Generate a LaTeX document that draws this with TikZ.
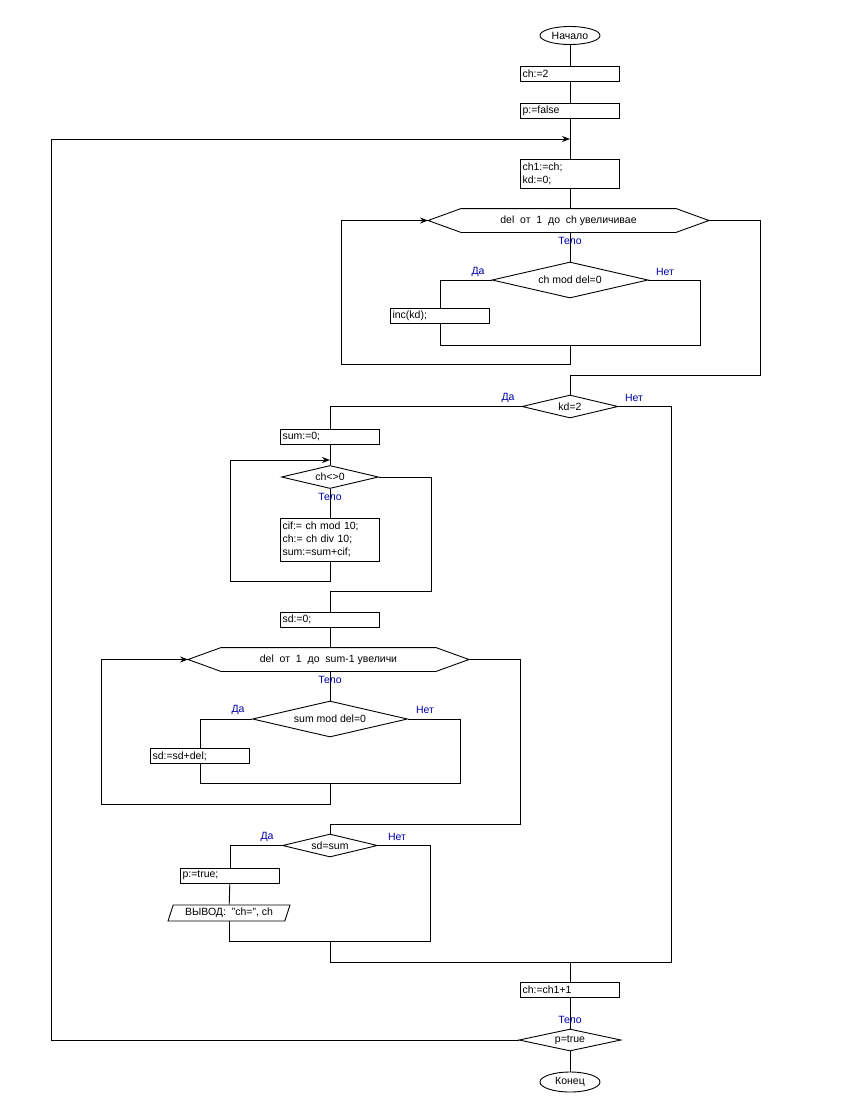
\documentclass[tikz,border=0pt]{standalone}
\usepackage{fontspec}
\setmainfont{Liberation Sans}
\usepackage{tikz}
\usetikzlibrary{positioning,calc,shapes,arrows.meta}
\definecolor{lblblue}{RGB}{0,0,170}
\tikzstyle{term}= [ellipse, draw, inner sep=0pt, minimum width=60pt, minimum height=18pt]
\tikzstyle{proc}= [rectangle, draw, inner sep=2pt, text width=95pt, minimum height=15pt, align=left]
\tikzstyle{cond}= [diamond, draw, inner sep=0pt, aspect=4.3]
\tikzstyle{loophex}= [rectangle, inner sep=0pt, minimum width=280pt, minimum height=23pt]
\tikzstyle{outp}= [trapezium, draw, trapezium left angle=66, trapezium right angle=114, trapezium stretches body=true, inner xsep=2pt, inner ysep=1pt, minimum width=122pt, minimum height=16pt]
\tikzstyle{lbl}= [text=lblblue, inner sep=0pt]
\tikzstyle{arr}= [-{Stealth[length=8pt,width=6pt]}]
\newcommand{\hexframe}[1]{\draw (#1.west) -- ($(#1.north west)+(33,0)$) -- ($(#1.north east)+(-33,0)$) -- (#1.east) -- ($(#1.south east)+(-33,0)$) -- ($(#1.south west)+(33,0)$) -- cycle;}

\begin{document}
\begin{tikzpicture}[x=1pt, y=-1pt, line width=0.9pt, font=\fontsize{10.5}{13}\selectfont]
				\useasboundingbox (0,0) rectangle (860,1116);
				\node[term] (start) at (570, 35.5) {Начало};
				\node[proc] (b1) at (570, 73.5) {ch:=2};
				\node[proc] (b2) at (570, 110.5) {p:=false};
				\node[proc, minimum height=29pt] (b3) at (570, 173.5) {ch1:=ch;\\kd:=0;};
				\node[loophex] (h1) at (568.5, 220.5) {del~ от~ 1~ до~ ch увеличивае};
				\node[cond, minimum width=156pt, minimum height=36pt] (d1) at (570, 280) {ch mod del=0};
				\node[proc] (b4) at (440, 316) {inc(kd);};
				\node[cond, minimum width=96pt, minimum height=23pt] (d2) at (570, 406.5) {kd=2};
				\node[proc] (b5) at (330, 436.5) {sum:=0;};
				\node[cond, minimum width=97pt, minimum height=23pt] (d3) at (330, 477) {ch<>0};
				\node[proc, minimum height=43pt] (b6) at (330, 539.5) {cif:= ch mod 10;\\ch:= ch div 10;\\sum:=sum+cif;};
				\node[proc] (b7) at (330, 619.5) {sd:=0;};
				\node[loophex] (h2) at (328.5, 659.5) {del~ от~ 1~ до~ sum-1 увеличи};
				\node[cond, minimum width=155pt, minimum height=36pt] (d4) at (330, 719) {sum mod del=0};
				\node[proc] (b8) at (200, 756) {sd:=sd+del;};
				\node[cond, minimum width=95pt, minimum height=23pt] (d5) at (330, 845.5) {sd=sum};
				\node[proc] (b9) at (230, 875.5) {p:=true;};
				\node[outp] (out1) at (229, 913) {ВЫВОД:~ "ch=",~ch};
				\node[proc] (b10) at (570, 989.5) {ch:=ch1+1};
				\node[cond, minimum width=102pt, minimum height=22pt] (d6) at (570, 1040) {p=true};
				\node[term, minimum height=20pt] (stop) at (570, 1082) {Конец};
				\hexframe{h1}
				\hexframe{h2}
				\coordinate (j1) at (570, 139);
				\coordinate (j2) at (330, 460);
				\coordinate (m1) at (570, 345);
				\coordinate (m1r) at (700, 345);
				\coordinate (lp1) at (341, 364);
				\coordinate (ex1) at (760, 375);
				\coordinate (lp2) at (230, 581);
				\coordinate (ex2) at (431, 591);
				\coordinate (m4) at (330, 783);
				\coordinate (m4r) at (460, 783);
				\coordinate (lp3) at (101, 804);
				\coordinate (ex3) at (520, 824);
				\coordinate (m5) at (330, 941);
				\coordinate (m5r) at (430, 941);
				\coordinate (m6) at (570, 962);
				\coordinate (m6r) at (671, 962);
				\coordinate (lp4) at (51, 1040);
				\draw(start) -- (b1);
				\draw(b1) -- (b2);
				\draw(b2) -- (b3);
				\draw(b3.south) -- (b3.south |- h1.north);
				\draw(h1.south -| d1.north) -- (d1);
				\draw(d1.west) -| (b4.north);
				\draw(b4.south) |- (m1r) |- (d1.east);
				\draw[arr] (m1) |- (lp1) |- (h1.west);
				\draw(h1.east) -| (ex1) -| (d2.north);
				\draw(d2.west) -| (b5.north);
				\draw(b5) -- (d3);
				\draw(d3) -- (b6);
				\draw[arr] (b6.south) |- (lp2) |- (j2);
				\draw(d3.east) -| (ex2) -| (b7.north);
				\draw(b7.south) -- (b7.south |- h2.north);
				\draw(h2.south -| d4.north) -- (d4);
				\draw(d4.west) -| (b8.north);
				\draw(b8.south) |- (m4r) |- (d4.east);
				\draw[arr] (m4) |- (lp3) |- (h2.west);
				\draw(h2.east) -| (ex3) -| (d5.north);
				\draw(d5.west) -| (b9.north);
				\draw(b9) -- (out1);
				\draw(out1.south) |- (m5r) |- (d5.east);
				\draw(m5) |- (m6r) |- (d2.east);
				\draw(m6) -- (b10);
				\draw(b10) -- (d6);
				\draw(d6) -- (stop);
				\draw[arr] (d6.west) -- (lp4) |- (j1);
				\node[lbl] (t1) at (570, 241) {Тело};
				\node[lbl] (y1) at (478, 272) {Да};
				\node[lbl] (n1) at (665, 272) {Нет};
				\node[lbl] (y2) at (508, 398) {Да};
				\node[lbl] (n2) at (634, 398) {Нет};
				\node[lbl] (t2) at (330, 497) {Тело};
				\node[lbl] (t3) at (330, 680) {Тело};
				\node[lbl] (y4) at (238, 710) {Да};
				\node[lbl] (n4) at (425, 710) {Нет};
				\node[lbl] (y5) at (267, 837) {Да};
				\node[lbl] (n5) at (397, 837) {Нет};
				\node[lbl] (t4) at (570, 1020) {Тело};
			\end{tikzpicture}
\end{document}
